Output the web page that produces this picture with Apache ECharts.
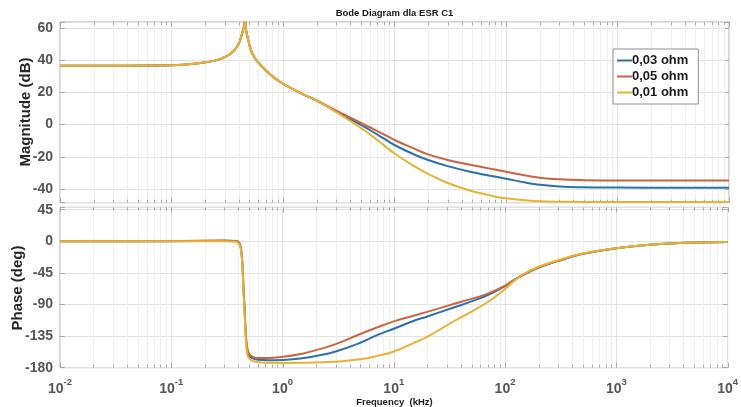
<!DOCTYPE html>
<html>
<head>
<meta charset="utf-8">
<script src="https://cdn.jsdelivr.net/npm/echarts@6/dist/echarts.min.js"></script>
<style>
  html, body { margin: 0; padding: 0; background: #ffffff; }
  #chart { width: 741px; height: 407px; }
</style>
</head>
<body>
<div id="chart"></div>
<script>
// ESR variants of capacitor C1
const seriesNames = ['0,03 ohm', '0,05 ohm', '0,01 ohm'];
const seriesColors = ['#2a72ad', '#cc6440', '#e6b432'];

// Magnitude response (dB) vs frequency (kHz)
const magFreq = [0.01, 0.03, 0.1, 0.18, 0.25, 0.31, 0.36, 0.4, 0.426, 0.445, 0.456, 0.468, 0.49, 0.506, 0.54, 0.6, 0.7, 0.85, 1, 1.2, 1.5, 2, 3, 4, 5, 6, 8, 10, 15, 20, 30, 50, 70, 100, 150, 200, 300, 500, 1000, 3000, 10000];
const magBlue   = [36.5, 36.5, 36.8, 38.1, 39.8, 42.3, 45.5, 50, 55.5, 60.5, 64, 58, 52, 48, 43, 38.5, 33.5, 28.6, 25.3, 22.2, 18.9, 14.9, 8.2, 3.5, -0.3, -3.4, -8.6, -12.7, -18.6, -22, -25.8, -29.6, -31.6, -33.6, -36, -37.3, -38.4, -38.9, -39.1, -39.2, -39.2];
const magRed    = [36.5, 36.5, 36.8, 38.1, 39.8, 42.3, 45.5, 50, 55.5, 60.5, 64, 58, 52, 48, 43, 38.5, 33.5, 28.6, 25.3, 22.2, 18.9, 14.9, 8.6, 4.3, 1.0, -1.7, -6.1, -9.6, -15, -18.5, -22, -25.3, -27.2, -29.3, -31.6, -33, -34, -34.5, -34.7, -34.7, -34.7];
const magYellow = [36.5, 36.5, 36.8, 38.1, 39.8, 42.3, 45.5, 50, 55.5, 60.5, 64, 58, 52, 48, 43, 38.5, 33.5, 28.6, 25.3, 22.2, 18.9, 14.9, 7.7, 2.2, -2.2, -6.0, -12.8, -18, -25.8, -30.6, -36.3, -41.4, -43.8, -45.8, -47, -47.6, -47.9, -48, -48.1, -48.1, -48.1];

// Phase response (deg) vs frequency (kHz)
const phaseFreq = [0.01, 0.1, 0.3, 0.38, 0.41, 0.425, 0.437, 0.447, 0.456, 0.465, 0.475, 0.487, 0.5, 0.53, 0.6, 0.75, 1, 1.5, 2, 3, 5, 7, 10, 15, 20, 35, 50, 70, 100, 125, 150, 200, 300, 500, 1000, 2000, 4000, 10000];
const phaseBlue   = [0, 0.2, 0.7, 0.3, -3.5, -13, -37, -72, -97, -127, -148, -158, -162.5, -166.5, -168.7, -169.3, -169, -166.5, -163.4, -157, -144.5, -134, -124.5, -113.5, -107, -94, -85.5, -76.5, -63.8, -53.5, -46.8, -37.5, -27.8, -17.8, -10, -4.8, -2.2, -0.9];
const phaseRed    = [0, 0.3, 1, 0.5, -3, -12, -35, -70, -95, -125, -145, -155, -160, -164, -166.3, -166.3, -164.5, -160, -155, -146.5, -132, -123, -114, -106, -100.5, -89, -82, -74.5, -63, -53.5, -46.8, -37.5, -27.8, -17.8, -10, -4.8, -2.2, -0.9];
const phaseYellow = [0, 0, 0.2, -0.5, -5, -15, -40, -75, -100, -132, -153, -163, -166.5, -170, -172.3, -173, -173.2, -173, -172.5, -171.5, -168, -163.5, -157, -145, -136, -113.5, -100, -86.5, -68, -54.5, -45.8, -36.3, -26.8, -17.3, -9.8, -4.8, -2.2, -0.9];

// Axis ranges and ticks
const freqMin = 0.01, freqMax = 10000;
const magMin = -48.5, magMax = 63.6;
const phaseMin = -180, phaseMax = 48.4, phaseStep = 45;
const decades = [-2, -1, 0, 1, 2, 3, 4];

// Major (decade) and minor (2..9 x decade) tick positions for the log axis
const freqTicks = [];
decades.forEach(function (d) {
  freqTicks.push([Math.pow(10, d), 0, 1]);
  if (d < 4) {
    for (let m = 2; m <= 9; m++) freqTicks.push([m * Math.pow(10, d), 0, 0]);
  }
});

const FONT = '"Liberation Sans", Arial, sans-serif';
const labelColor = '#555555';
const gridColor = '#e2e2e2';
const minorGridColor = '#efefef';
const tickColor = '#a8a8a8';

function pairs(xs, ys) { return xs.map(function (x, i) { return [x, ys[i]]; }); }

function tickLayer(idx) {
  return {
    type: 'custom',
    xAxisIndex: idx,
    yAxisIndex: idx * 2,
    silent: true,
    z: 1,
    data: freqTicks,
    encode: { x: 0, y: 1 },
    renderItem: function (params, api) {
      const cs = params.coordSys;
      const x = Math.round(api.coord([api.value(0), 0])[0]) + 0.5;
      const major = api.value(2) === 1;
      const len = major ? 5 : 3;
      const top = cs.y, bottom = cs.y + cs.height;
      const children = [];
      if (!major) {
        children.push({ type: 'line', shape: { x1: x, y1: top, x2: x, y2: bottom }, style: { stroke: minorGridColor, lineWidth: 1 } });
      }
      children.push({ type: 'line', shape: { x1: x, y1: top, x2: x, y2: top + len }, style: { stroke: tickColor, lineWidth: 1 } });
      children.push({ type: 'line', shape: { x1: x, y1: bottom - len, x2: x, y2: bottom }, style: { stroke: tickColor, lineWidth: 1 } });
      return { type: 'group', children: children };
    }
  };
}

function freqAxis(idx, withLabels) {
  return {
    type: 'log', logBase: 10, gridIndex: idx, min: freqMin, max: freqMax,
    axisLine: { show: false },
    axisTick: { show: false },
    splitLine: { show: true, lineStyle: { color: gridColor, width: 1 } },
    axisLabel: withLabels ? {
      show: true, margin: 10,
      formatter: function (v) { return '{b|10}{s|' + Math.round(Math.log10(v)) + '}'; },
      rich: {
        b: { fontFamily: FONT, fontSize: 14, fontWeight: 'bold', color: labelColor, lineHeight: 18, verticalAlign: 'bottom' },
        s: { fontFamily: FONT, fontSize: 9.5, fontWeight: 'bold', color: labelColor, lineHeight: 11, verticalAlign: 'top' }
      }
    } : { show: false }
  };
}

function valueAxis(idx, min, max, step, side) {
  const axis = {
    type: 'value', gridIndex: idx, min: min, max: max, position: side,
    axisLine: { show: false },
    axisTick: { show: true, inside: true, length: 5, lineStyle: { color: tickColor } },
    splitLine: { show: side === 'left', lineStyle: { color: gridColor, width: 1 } },
    axisLabel: side === 'left' ? {
      show: true, margin: 7,
      fontFamily: FONT, fontSize: 14, fontWeight: 'bold', color: labelColor,
      formatter: function (v) { return Math.abs(v % step) < 1e-6 ? String(v) : ''; }
    } : { show: false }
  };
  if (step === phaseStep) axis.interval = phaseStep;
  return axis;
}

function curve(name, color, data, xi, yi) {
  return {
    type: 'line', name: name, xAxisIndex: xi, yAxisIndex: yi,
    data: data, showSymbol: false, symbol: 'none', smooth: 0.45, clip: true, z: 3,
    lineStyle: { color: color, width: 2 }, itemStyle: { color: color },
    emphasis: { disabled: true }
  };
}

const chart = echarts.init(document.getElementById('chart'), null, { renderer: 'canvas' });

chart.setOption({
  animation: false,
  backgroundColor: '#ffffff',
  grid: [
    { left: 60, right: 12, top: 22, height: 180.7, show: true, borderColor: '#adadad', borderWidth: 1, backgroundColor: '#ffffff' },
    { left: 60, right: 12, top: 207.3, height: 160.4, show: true, borderColor: '#adadad', borderWidth: 1, backgroundColor: '#ffffff' }
  ],
  xAxis: [freqAxis(0, false), freqAxis(1, true)],
  yAxis: [
    valueAxis(0, magMin, magMax, 20, 'left'),
    valueAxis(0, magMin, magMax, 20, 'right'),
    valueAxis(1, phaseMin, phaseMax, phaseStep, 'left'),
    valueAxis(1, phaseMin, phaseMax, phaseStep, 'right')
  ],
  legend: {
    data: seriesNames,
    orient: 'vertical',
    left: 613, top: 49,
    padding: [4, 10, 4, 4],
    icon: 'rect',
    itemGap: 1, itemWidth: 15, itemHeight: 2,
    backgroundColor: '#ffffff', borderColor: '#8f8f8f', borderWidth: 1, borderRadius: 0,
    selectedMode: false,
    textStyle: { fontFamily: FONT, fontSize: 13, fontWeight: 'bold', color: '#1a1a1a', lineHeight: 15, padding: [0, 0, 0, -5] }
  },
  graphic: [
    { type: 'text', x: 394.5, y: 13, style: { text: 'Bode Diagram dla ESR C1', font: 'bold 9.5px ' + FONT, fill: '#1a1a1a', textAlign: 'center', textVerticalAlign: 'middle' } },
    { type: 'text', x: 394.5, y: 402, style: { text: 'Frequency  (kHz)', font: 'bold 9.5px ' + FONT, fill: '#1a1a1a', textAlign: 'center', textVerticalAlign: 'middle' } },
    { type: 'text', x: 26, y: 112, rotation: Math.PI / 2, style: { text: 'Magnitude (dB)', font: 'bold 15px ' + FONT, fill: '#262626', textAlign: 'center', textVerticalAlign: 'middle' } },
    { type: 'text', x: 18, y: 288, rotation: Math.PI / 2, style: { text: 'Phase (deg)', font: 'bold 15px ' + FONT, fill: '#262626', textAlign: 'center', textVerticalAlign: 'middle' } }
  ],
  series: [
    tickLayer(0),
    tickLayer(1),
    curve(seriesNames[0], seriesColors[0], pairs(magFreq, magBlue), 0, 0),
    curve(seriesNames[1], seriesColors[1], pairs(magFreq, magRed), 0, 0),
    curve(seriesNames[2], seriesColors[2], pairs(magFreq, magYellow), 0, 0),
    curve(seriesNames[0], seriesColors[0], pairs(phaseFreq, phaseBlue), 1, 2),
    curve(seriesNames[1], seriesColors[1], pairs(phaseFreq, phaseRed), 1, 2),
    curve(seriesNames[2], seriesColors[2], pairs(phaseFreq, phaseYellow), 1, 2)
  ]
});
</script>
</body>
</html>
